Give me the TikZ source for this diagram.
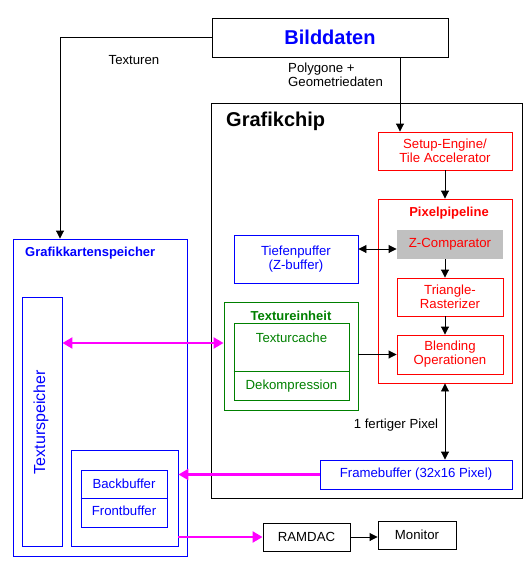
\documentclass[tikz,border=0pt]{standalone}
\usepackage{fontspec}
\setmainfont{Liberation Sans}
\usetikzlibrary{arrows.meta}
\definecolor{cblue}{RGB}{0,0,255}
\definecolor{cred}{RGB}{255,0,0}
\definecolor{cgreen}{RGB}{0,128,0}
\definecolor{cmag}{RGB}{255,0,255}
\definecolor{cgray}{RGB}{192,192,192}
\tikzset{
  bx/.style={draw, rectangle, inner sep=0pt, line width=0.9pt, align=center,
    font=\fontsize{13.2}{14}\selectfont},
  blk/.style={bx, draw=black, text=black},
  blu/.style={bx, draw=cblue, text=cblue},
  rd/.style={bx, draw=cred, text=cred},
  grn/.style={bx, draw=cgreen, text=cgreen},
  lbl/.style={inner sep=0pt, align=left, font=\fontsize{13.2}{14}\selectfont},
  ttl/.style={inner sep=0pt, font=\bfseries\fontsize{13}{15}\selectfont},
  arr/.style={draw=black, line width=0.9pt, -{Triangle[length=8pt,width=8pt]}},
  darr/.style={draw=black, line width=0.9pt, {Triangle[length=8pt,width=8pt]}-{Triangle[length=8pt,width=8pt]}},
  marr/.style={draw=cmag, line width=2.2pt, -{Triangle[length=10pt,width=11pt]}},
  mdarr/.style={draw=cmag, line width=2.2pt, {Triangle[length=10pt,width=11pt]}-{Triangle[length=10pt,width=11pt]}},
}
\begin{document}
\begin{tikzpicture}[x=1pt,y=-1pt]
\useasboundingbox (0,0) rectangle (531,566);
% Bilddaten
\node[blk, minimum width=236pt, minimum height=39pt, font=\bfseries\fontsize{20}{22}\selectfont, text=cblue] (bild) at (330,37.5) {Bilddaten};
% Grafikchip
\node[blk, minimum width=311pt, minimum height=395pt] (chip) at (366.5,300.5) {};
\node[ttl, anchor=west, font=\bfseries\fontsize{20}{22}\selectfont] (chipt) at (226,121) {Grafikchip};
\node[rd, minimum width=134pt, minimum height=38pt] (setup) at (445,151) {Setup-Engine/\\Tile Accelerator};
\node[rd, minimum width=134pt, minimum height=184pt] (pipe) at (445,291) {};
\node[ttl, text=cred] (pipet) at (449,213) {Pixelpipeline};
\node[rd, draw=none, fill=cgray, minimum width=106pt, minimum height=29pt] (zc) at (450,244.5) {Z-Comparator};
\node[rd, minimum width=106pt, minimum height=38pt] (tri) at (450,297) {Triangle-\\Rasterizer};
\node[rd, minimum width=106pt, minimum height=39pt] (blend) at (450,354.5) {Blending\\Operationen};
\node[blu, minimum width=124pt, minimum height=48pt] (tief) at (296,259) {Tiefenpuffer\\(Z-buffer)};
\node[grn, minimum width=134pt, minimum height=108pt] (texein) at (291,356) {};
\node[ttl, text=cgreen] (texeint) at (291,316) {Textureinheit};
\node[grn, minimum width=115pt, minimum height=77pt] (texc) at (291.5,361.5) {};
\draw[cgreen, line width=0.9pt] (texc.west |- 0,371) coordinate (dl) -- (dl -| texc.east) coordinate (dr);
\node[lbl, text=cgreen] (texct) at (291.5,338) {Texturcache};
\node[lbl, text=cgreen] (dekt) at (291.5,386) {Dekompression};
\node[blu, minimum width=192pt, minimum height=29pt] (frame) at (416,474.5) {Framebuffer (32x16 Pixel)};
\node[lbl] (fert) at (396,425) {1 fertiger Pixel};
% Grafikkartenspeicher
\node[blu, minimum width=174pt, minimum height=317pt] (gks) at (100,397.5) {};
\node[ttl, text=cblue, anchor=west] (gkst) at (25,253) {Grafikkartenspeicher};
\node[blu, minimum width=40pt, minimum height=249pt] (texsp) at (42,421.5) {};
\node[lbl, text=cblue, rotate=90, font=\fontsize{16}{18}\selectfont] (texspt) at (41,422) {Texturspeicher};
\node[blu, minimum width=107pt, minimum height=96pt] (bufo) at (124.5,498) {};
\node[blu, minimum width=86pt, minimum height=57pt] (bufi) at (124,498.5) {};
\draw[cblue, line width=0.9pt] (bufi.west |- 0,498) coordinate (bl) -- (bl -| bufi.east) coordinate (br);
\node[lbl, text=cblue] (backt) at (124,484) {Backbuffer};
\node[lbl, text=cblue] (frontt) at (124,511) {Frontbuffer};
% RAMDAC, Monitor
\node[blk, minimum width=87pt, minimum height=28pt] (ramdac) at (306.5,537) {RAMDAC};
\node[blk, minimum width=78pt, minimum height=28pt] (mon) at (417,535) {Monitor};
% Labels
\node[lbl] (textl) at (134,60) {Texturen};
\node[lbl, anchor=north west] (polyl) at (288,63) {Polygone +\\Geometriedaten};
% Connectors
\draw[arr] (bild.west) -| ([xshift=-40pt]gks.north);
\draw[arr] ([xshift=-45pt]setup.north |- bild.south) -- ([xshift=-45pt]setup.north);
\draw[arr] (setup.south) -- (pipe.north);
\draw[darr] ([yshift=10pt]tief.east) -- ([yshift=10pt]tief.east -| zc.west);
\draw[arr] (zc.south -| pipe.south) -- (tri.north -| pipe.south);
\draw[arr] (tri.south -| pipe.south) -- (blend.north -| pipe.south);
\draw[arr] (texein.east |- blend.west) -- (blend.west);
\draw[darr] (pipe.south) -- (pipe.south |- frame.north);
\draw[mdarr] ([yshift=13pt]texein.west -| texsp.east) -- ([yshift=13pt]texein.west);
\draw[marr] (frame.west) -- (frame.west -| bufo.east);
\draw[marr] (ramdac.west -| bufo.east) -- (ramdac.west);
\draw[arr] (ramdac.east) -- (ramdac.east -| mon.west);
\end{tikzpicture}
\end{document}
